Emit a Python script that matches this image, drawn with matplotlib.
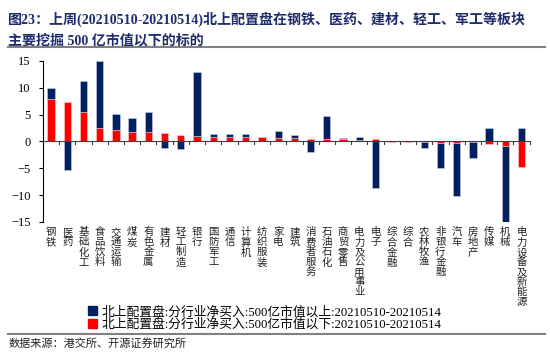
import matplotlib
matplotlib.use('Agg')
import matplotlib.pyplot as plt
from matplotlib.lines import Line2D
import numpy as np

plt.rcParams['font.family'] = ['Liberation Serif', 'Noto Sans CJK SC', 'DejaVu Sans']

categories = ['钢铁', '医药', '基础化工', '食品饮料', '交通运输', '煤炭', '有色金属', '建材',
              '轻工制造', '银行', '国防军工', '通信', '计算机', '纺织服装', '家电', '建筑',
              '消费者服务', '石油石化', '商贸零售', '电力及公用事业', '电子', '综合金融', '综合',
              '农林牧渔', '非银行金融', '汽车', '房地产', '传媒', '机械', '电力设备及新能源']
# 500亿市值以下 (红)
small_cap = [7.9, 7.3, 5.4, 2.5, 2.1, 1.7, 1.7, 1.6, 1.2, 1.0, 0.9, 0.8, 0.8, 0.8, 0.6, 0.6,
             0.5, 0.4, 0.4, 0.2, 0.4, -0.2, -0.2, -0.1, -0.3, -0.3, -0.2, -0.5, -0.9, -4.7]
# 500亿市值以上 (蓝)
large_cap = [2.1, -5.4, 5.8, 12.5, 3.0, 2.6, 3.7, -1.3, -1.5, 12.0, 0.5, 0.5, 0.6, 0.0, 1.3, 0.65,
             -2.0, 4.25, 0.3, 0.7, -8.6, 0.0, 0.0, -1.1, -4.6, -9.9, -2.8, 2.55, -14.1, 2.55]

label_large = '北上配置盘:分行业净买入:500亿市值以上:20210510-20210514'
label_small = '北上配置盘:分行业净买入:500亿市值以下:20210510-20210514'

navy = '#002060'
red = '#FF0000'
mixed = ['Liberation Serif', 'Noto Sans CJK SC']

fig = plt.figure(figsize=(5.5, 3.58), dpi=100)
ax = fig.add_axes([0.078, 0.38, 0.885, 0.45])

x = np.arange(len(categories))
small = np.array(small_cap)
large = np.array(large_cap)
bottom_large = np.where(np.sign(large) == np.sign(small), small, 0)

ax.bar(x, small, width=0.45, color=red, edgecolor='#ffd0d0', linewidth=0.4, zorder=2)
ax.bar(x, large, width=0.45, bottom=bottom_large, color=navy, edgecolor='#c8d0e8',
       linewidth=0.4, zorder=2)

ax.set_xlim(-0.5, len(categories) - 0.5)
ax.set_ylim(-15, 15)
ax.set_yticks(range(-15, 16, 5))
ax.tick_params(axis='y', labelsize=9, length=3, width=0.8, pad=6)
for s in ['top', 'right', 'bottom']:
    ax.spines[s].set_visible(False)
ax.spines['left'].set_linewidth(0.8)
ax.axhline(0, color='#404040', lw=0.8, zorder=3)
ax.set_xticks([])
# 零线上的分类间刻度
for xi in np.arange(0.5, len(categories), 1.0):
    ax.plot([xi, xi], [0, -0.5], color='#404040', lw=0.8, zorder=3, clip_on=False)

# 竖排分类标签
for i, c in enumerate(categories):
    ax.text(i, -16.0, '\n'.join(c), ha='center', va='top', fontsize=7.5,
            family=['Noto Sans CJK SC'], linespacing=1.0, color='#222222')

# 标题
fig.text(0.015, 0.968, '图23：上周(20210510-20210514)北上配置盘在钢铁、医药、建材、轻工、军工等板块',
         fontsize=10.1, fontweight='bold', color='#1F2D6B', ha='left', va='top', family=mixed)
fig.text(0.015, 0.905, '主要挖掘 500 亿市值以下的标的',
         fontsize=10.1, fontweight='bold', color='#1F2D6B', ha='left', va='top', family=mixed)
fig.add_artist(Line2D([0.015, 0.99], [0.868, 0.868], color='#808080', lw=1.5))

# 图例
handles = [plt.Rectangle((0, 0), 1, 1, color=navy), plt.Rectangle((0, 0), 1, 1, color=red)]
fig.legend(handles, [label_large, label_small], loc='upper left', bbox_to_anchor=(0.148, 0.163),
           frameon=False, handlelength=0.7, handleheight=0.7, handletextpad=0.4,
           labelspacing=0.0, borderpad=0, prop={'family': mixed, 'size': 9.2})
fig.add_artist(Line2D([0.015, 0.99], [0.068, 0.068], color='#808080', lw=1.5))
fig.text(0.015, 0.055, '数据来源：港交所、开源证券研究所', fontsize=8, ha='left', va='top',
         family=['Noto Sans CJK SC'], color='#222222')

fig.savefig('out.png', dpi=100)
